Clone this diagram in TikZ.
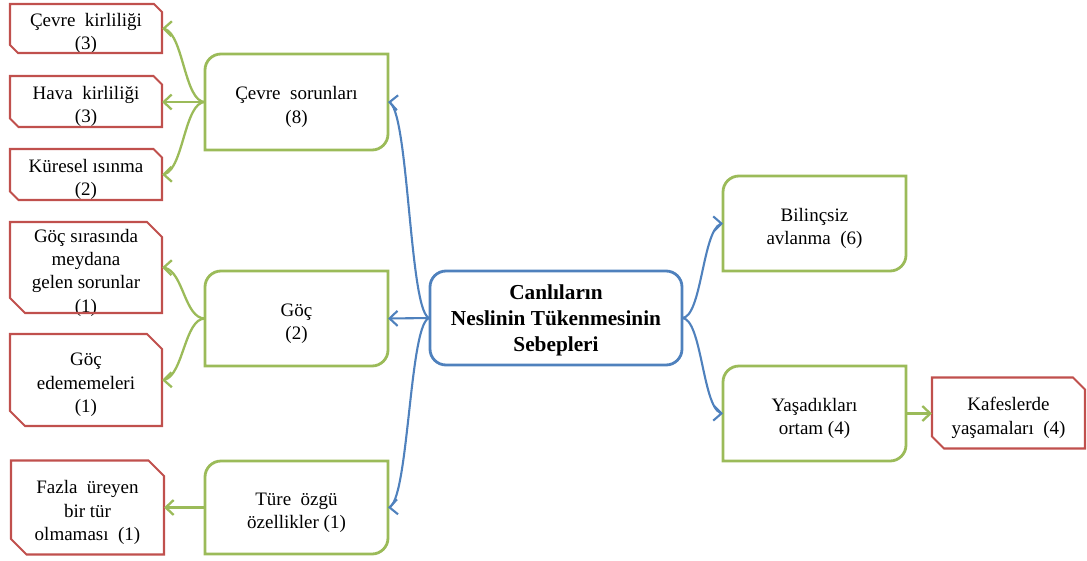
\documentclass[tikz,border=0pt]{standalone}
\usepackage{fontspec}
\setmainfont{Liberation Serif}
\usetikzlibrary{arrows.meta,bending}
\definecolor{leafred}{RGB}{192,80,77}
\definecolor{midgreen}{RGB}{155,187,89}
\definecolor{rootblue}{RGB}{79,129,189}
\tikzset{
  box/.style={inner sep=0pt, outer sep=0pt, align=center, font=\fontsize{19}{23.3}\selectfont},
  txt/.style={label={[box, yshift=-5pt]center:{#1}}},
  leaf/.style={box, minimum width=152pt},
  branch/.style={box, minimum width=183pt},
  rootnode/.style={box, draw=rootblue, line width=2.8pt, rounded corners=16pt,
    minimum width=252pt, minimum height=94pt},
  roottxt/.style={label={[box, yshift=-2.5pt, font=\bfseries\fontsize{21.3}{26}\selectfont]center:{#1}}},
  leafline/.style={draw=leafred, line width=2.1pt, line join=miter},
  branchline/.style={draw=midgreen, line width=2.8pt},
  tip/.style={-{Straight Barb[length=8pt,width=15pt]}},
  bluelink/.style={draw=rootblue, line width=2.1pt, tip},
  greenlink/.style={draw=midgreen, line width=2.3pt, tip},
}
% red outline: chamfered top-right and bottom-left corners
\newcommand\leafoutline[2]{%
  \draw[leafline] (#1.north west) -- ([xshift=-#2pt]#1.north east)
    -- ([yshift=-#2pt]#1.north east) -- (#1.south east)
    -- ([xshift=#2pt]#1.south west) -- ([yshift=#2pt]#1.south west) -- cycle;}
% green outline: rounded top-left and bottom-right corners
\newcommand\branchoutline[1]{%
  \draw[branchline] ([yshift=-16pt]#1.north west) arc[start angle=180,end angle=90,radius=16pt]
    -- (#1.north east) -- ([yshift=16pt]#1.south east)
    arc[start angle=0,end angle=-90,radius=16pt] -- (#1.south west) -- cycle;}
\begin{document}
\begin{tikzpicture}[x=1pt,y=1pt]
\useasboundingbox (0,0) rectangle (1087,-560);

% central topic
\node[rootnode, roottxt={Canlıların\\Neslinin Tükenmesinin\\Sebepleri}] (root) at (556,-318) {};

% second level
\node[branch, minimum height=96pt, txt={Çevre~~sorunları\\(8)}] (g1) at (296.5,-102) {};
\node[branch, minimum height=95pt, txt={Göç\\(2)}] (g2) at (296.5,-318.5) {};
\node[branch, minimum height=93pt, txt={Türe~~özgü\\özellikler (1)}] (g3) at (296.5,-507.5) {};
\node[branch, minimum height=95pt, txt={Bilinçsiz\\avlanma~~(6)}] (g4) at (814.5,-223.5) {};
\node[branch, minimum height=95pt, txt={Yaşadıkları\\ortam (4)}] (g5) at (814.5,-413.5) {};

% third level
\node[leaf, minimum height=49pt, txt={Çevre~~kirliliği\\(3)}] (r1) at (86,-28.5) {};
\node[leaf, minimum height=51pt, txt={Hava~~kirliliği\\(3)}] (r2) at (86,-101.5) {};
\node[leaf, minimum height=51pt, txt={Küresel ısınma\\(2)}] (r3) at (86,-174.5) {};
\node[leaf, minimum height=91pt, txt={Göç sırasında\\meydana\\gelen sorunlar\\(1)}] (r4) at (86,-267.5) {};
\node[leaf, minimum height=92pt, txt={Göç\\edememeleri\\(1)}] (r5) at (86,-380) {};
\node[leaf, minimum width=153pt, minimum height=94pt, txt={Fazla~~üreyen\\bir tür\\olmaması~~(1)}] (r6) at (87.5,-507.5) {};
\node[leaf, minimum width=153pt, minimum height=71pt, txt={Kafeslerde\\yaşamaları~~(4)}] (r7) at (1008.5,-413) {};

\foreach \n in {g1,g2,g3,g4,g5} {\branchoutline{\n}}
\leafoutline{r1}{8}
\leafoutline{r2}{8.5}
\leafoutline{r3}{8.5}
\leafoutline{r4}{15}
\leafoutline{r5}{15}
\leafoutline{r6}{15.5}
\leafoutline{r7}{12}

% connectors from the central topic
\draw[bluelink] (root.west) to[out=180,in=0,distance=21pt] (g1.east);
\draw[bluelink] (root.west) -- (g2.east);
\draw[bluelink] (root.west) to[out=180,in=0,distance=21pt] (g3.east);
\draw[bluelink] (root.east) to[out=0,in=180,distance=20.5pt] (g4.west);
\draw[bluelink] (root.east) to[out=0,in=180,distance=20.5pt] (g5.west);

% connectors to the third level
\draw[greenlink] (g1.west) to[out=180,in=0,distance=21.5pt] (r1.east);
\draw[greenlink] (g1.west) -- (g1.west -| r2.east);
\draw[greenlink] (g1.west) to[out=180,in=0,distance=21.5pt] (r3.east);
\draw[greenlink] (g2.west) to[out=180,in=0,distance=21.5pt] (r4.east);
\draw[greenlink] (g2.west) to[out=180,in=0,distance=21.5pt] (r5.east);
\draw[greenlink] (g3.west) -- (g3.west -| r6.east);
\draw[greenlink] (g5.east) -- (g5.east -| r7.west);
\end{tikzpicture}
\end{document}
